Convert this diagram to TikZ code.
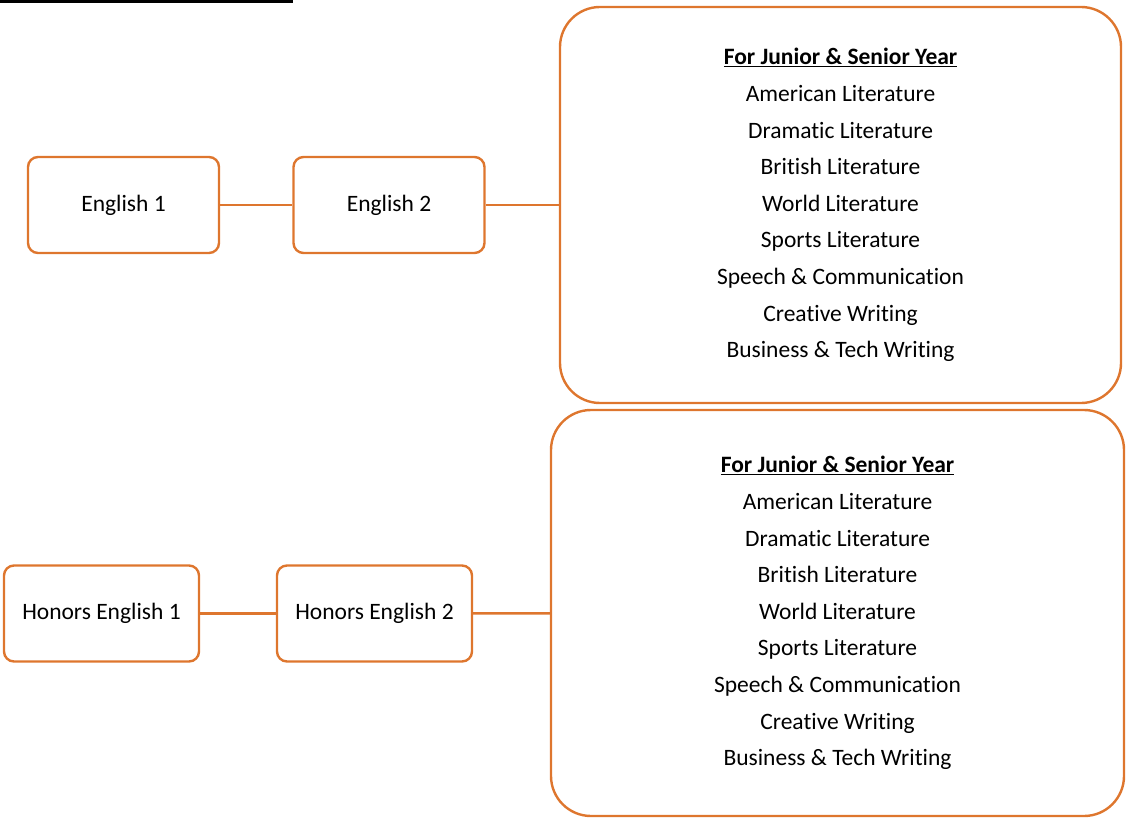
\documentclass[tikz,border=0pt]{standalone}
\usepackage{fontspec}
\setmainfont{Carlito}[Ligatures={NoCommon}]
\usepackage{tikz}

\definecolor{boxorange}{RGB}{222,118,46}

\begin{document}
\begin{tikzpicture}[x=1pt,y=-1pt]
		\tikzset{
			cbox/.style={
				draw=boxorange, line width=2.4pt, rounded corners=10pt,
				minimum width=191pt, minimum height=96pt, inner sep=0pt,
				font=\fontsize{23.5}{28}\selectfont
			},
			lbox/.style={
				cbox, rounded corners=40pt, align=center,
				font=\fontsize{23.5}{36.6}\selectfont
			},
			link/.style={
				draw=boxorange, line width=2.4pt
			}
		}
		\useasboundingbox (0,0) rectangle (1126,818);
		
		% cut-off underline at the top
		\draw [line width=3pt] (0,2) -- (293,2);
		
		% regular track
		\node [cbox] (eng1) at (123.5,205) {English 1};
		\node [cbox] (eng2) at (389,205) {English 2};
		\node [lbox, minimum width=561pt, minimum height=396pt] (elect1) at (840.5,205) {%
			\underline{\textbf{For Junior \& Senior Year}}\\
			American Literature\\ Dramatic Literature\\ British Literature\\
			World Literature\\ Sports Literature\\ Speech \& Communication\\
			Creative Writing\\ Business \& Tech Writing};
		
		% honors track
		\node [cbox, minimum width=195pt] (hon1) at (101.5,613.5) {Honors English 1};
		\node [cbox, minimum width=195pt] (hon2) at (374.5,613.5) {Honors English 2};
		\node [lbox, minimum width=573pt, minimum height=406pt] (elect2) at (837.5,613) {%
			\underline{\textbf{For Junior \& Senior Year}}\\
			American Literature\\ Dramatic Literature\\ British Literature\\
			World Literature\\ Sports Literature\\ Speech \& Communication\\
			Creative Writing\\ Business \& Tech Writing};
		
		\foreach \a/\b in {eng1/eng2, eng2/elect1, hon1/hon2, hon2/elect2}{
			\path (\a) edge [link] (\b);
		}
\end{tikzpicture}
\end{document}
